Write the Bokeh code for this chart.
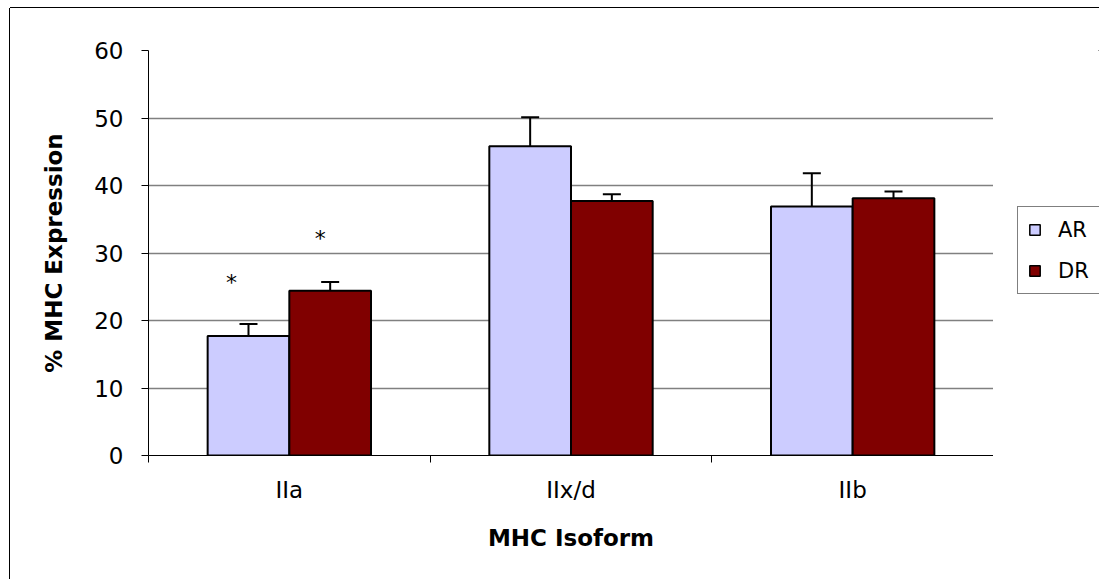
from bokeh.plotting import figure
from bokeh.layouts import row
from bokeh.models import ColumnDataSource, FixedTicker, Whisker, TeeHead, Legend, LegendItem, Range1d
from bokeh.transform import dodge
from bokeh.core.properties import value
from bokeh.embed import file_html
from bokeh.resources import INLINE

categories = ["IIa", "IIx/d", "IIb"]
series = ["AR", "DR"]
ar_values = [17.7, 45.8, 36.9]
ar_errors = [1.8, 4.3, 4.9]
dr_values = [24.4, 37.7, 38.1]
dr_errors = [1.3, 1.0, 1.0]
significant = [True, False, False]
ar_color = "#ccccff"
dr_color = "#800000"
y_ticks = [0, 10, 20, 30, 40, 50, 60]

FONT = "DejaVu Sans"
BAR_W = 0.29
OFF = BAR_W / 2

xc = [i + 0.5 for i in range(len(categories))]
src_ar = ColumnDataSource(dict(
    x=xc, top=ar_values,
    upper=[v + e for v, e in zip(ar_values, ar_errors)],
    lower=[v - e for v, e in zip(ar_values, ar_errors)]))
src_dr = ColumnDataSource(dict(
    x=xc, top=dr_values,
    upper=[v + e for v, e in zip(dr_values, dr_errors)],
    lower=[v - e for v, e in zip(dr_values, dr_errors)]))

p = figure(width=983, height=571, output_backend="svg", toolbar_location=None,
           x_range=Range1d(0, len(categories)), y_range=Range1d(0, 60),
           min_border_left=138, min_border_right=0, min_border_top=42, min_border_bottom=124)
p.margin = (8, 0, 0, 10)
p.styles = {"box-shadow": "0 -1px 0 0 black, -1px 0 0 0 black"}
p.outline_line_color = None
p.background_fill_color = "white"
p.border_fill_color = "white"

ar_r = p.vbar(x=dodge("x", -OFF, range=p.x_range), top="top", width=BAR_W, bottom=0,
              source=src_ar, fill_color=ar_color, line_color="black", line_width=2)
dr_r = p.vbar(x=dodge("x", OFF, range=p.x_range), top="top", width=BAR_W, bottom=0,
              source=src_dr, fill_color=dr_color, line_color="black", line_width=2)

for src, off in ((src_ar, -OFF), (src_dr, OFF)):
    w = Whisker(base=dodge("x", off, range=p.x_range), upper="upper", lower="lower",
                source=src, line_color="black", line_width=2,
                upper_head=TeeHead(size=18, line_width=2, line_color="black"),
                lower_head=TeeHead(size=18, line_width=2, line_color="black"))
    p.add_layout(w)

# significance asterisks
star_x, star_y = [], []
for i, sig in enumerate(significant):
    if sig:
        star_x += [xc[i] - OFF - 0.06, xc[i] + OFF - 0.035]
        star_y += [ar_values[i] + ar_errors[i] + 6.4, dr_values[i] + dr_errors[i] + 6.7]
p.text(x=star_x, y=star_y, text=["*"] * len(star_x), text_font=value(FONT),
       text_font_size="22px", text_align="center", text_baseline="alphabetic",
       y_offset=2, text_color="black")

# axes
p.xaxis.ticker = FixedTicker(ticks=xc, minor_ticks=list(range(len(categories) + 1)))
p.xaxis.major_label_overrides = {x: c for x, c in zip(xc, categories)}
p.xaxis.major_tick_in = 0
p.xaxis.major_tick_out = 0
p.xaxis.minor_tick_in = 0
p.xaxis.minor_tick_out = 7
p.xaxis.minor_tick_line_color = "black"
p.xaxis.minor_tick_line_width = 1
p.xaxis.major_label_standoff = 14
p.xaxis.axis_label = "MHC Isoform"
p.xaxis.axis_label_standoff = 19

p.yaxis.ticker = FixedTicker(ticks=y_ticks)
p.yaxis.major_tick_in = 0
p.yaxis.major_tick_out = 7
p.yaxis.minor_tick_line_color = None
p.yaxis.major_label_standoff = 18
p.yaxis.axis_label = "% MHC Expression"
p.yaxis.axis_label_standoff = 24

for ax in (p.xaxis[0], p.yaxis[0]):
    ax.axis_line_color = "black"
    ax.axis_line_width = 1
    ax.major_tick_line_color = "black"
    ax.major_label_text_font = FONT
    ax.major_label_text_font_size = "23px"
    ax.major_label_text_color = "black"
    ax.axis_label_text_font = FONT
    ax.axis_label_text_font_size = "23px"
    ax.axis_label_text_font_style = "bold"
    ax.axis_label_text_color = "black"

p.xgrid.grid_line_color = None
p.ygrid.grid_line_color = "#808080"
p.ygrid.grid_line_width = 1.5
p.ygrid.ticker = FixedTicker(ticks=y_ticks)

# legend panel (to the right of the plot area); its key renderers lie outside its view
lg = figure(width=106, height=571, output_backend="svg", toolbar_location=None,
            x_range=Range1d(-20, -19), y_range=Range1d(-20, -19),
            min_border=0, x_axis_type=None, y_axis_type=None)
lg.margin = (8, 0, 0, 0)
lg.styles = {"box-shadow": "0 -1px 0 0 black"}
lg.outline_line_color = None
lg.grid.visible = False
lg.background_fill_color = "white"
lg.border_fill_color = "white"
key_ar = lg.vbar(x="x", top="top", width=0.1, bottom=0, source=src_ar,
                 fill_color=ar_color, line_color="black", line_width=1.5)
key_dr = lg.vbar(x="x", top="top", width=0.1, bottom=0, source=src_dr,
                 fill_color=dr_color, line_color="black", line_width=1.5)

legend = Legend(items=[LegendItem(label=series[0], renderers=[key_ar]),
                       LegendItem(label=series[1], renderers=[key_dr])],
                location=(24, 161), orientation="vertical",
                glyph_width=13, glyph_height=13, label_height=25, label_width=60, spacing=16,
                padding=10, margin=0, label_standoff=17,
                label_text_font=FONT, label_text_font_size="21px", label_text_color="black",
                border_line_color="black", border_line_width=1,
                background_fill_color="white", background_fill_alpha=1)
lg.add_layout(legend, "center")

layout = row(p, lg)
open("out.html", "w").write(file_html(layout, INLINE))
